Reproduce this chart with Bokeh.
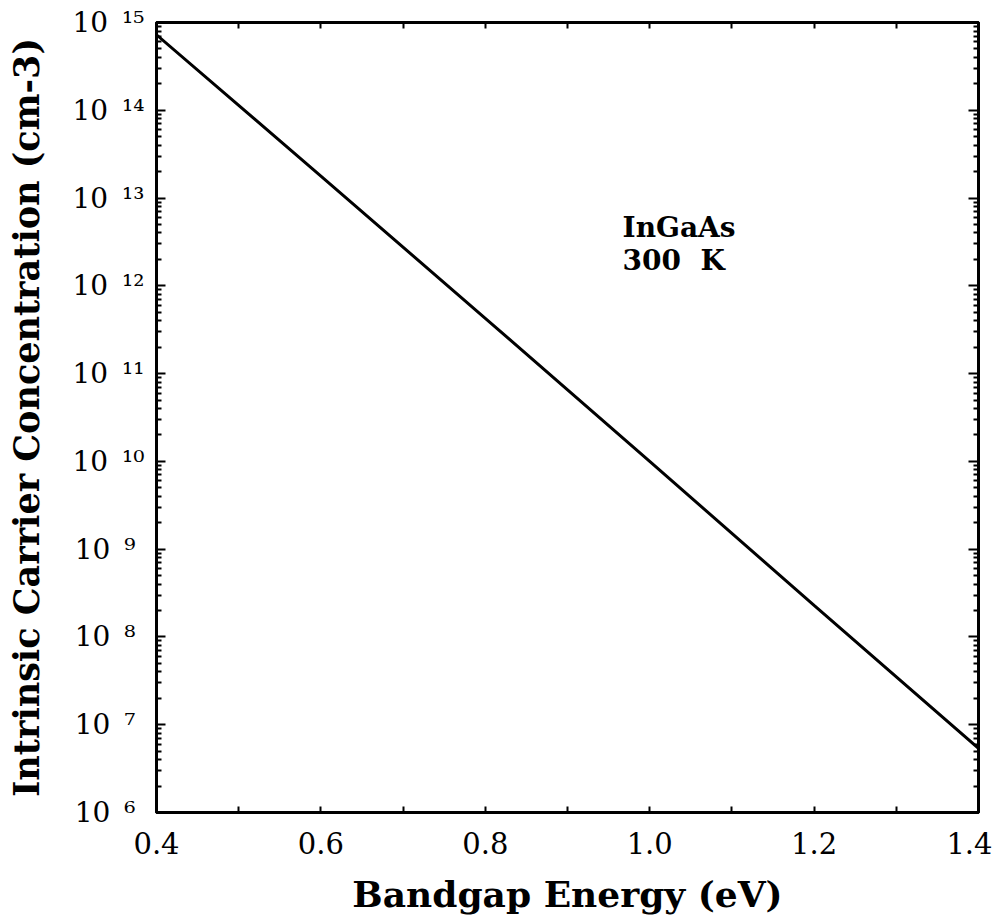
from bokeh.plotting import figure
from bokeh.models import (LogAxis, LinearAxis, FixedTicker, Range1d,
                          Label, CustomJSTickFormatter)
from bokeh.embed import file_html
from bokeh.resources import INLINE

# ---- data ----
energy = [0.4, 0.6, 0.8, 1.0, 1.2, 1.4]                 # eV
log_ni = [14.86, 13.25, 11.63, 10.0, 8.36, 6.73]        # log10(cm^-3)
ni = [10 ** v for v in log_ni]

x_ticks = [0.4, 0.6, 0.8, 1.0, 1.2, 1.4]
x_minor = [0.5, 0.7, 0.9, 1.1, 1.3]
y_exponents = [6, 7, 8, 9, 10, 11, 12, 13, 14, 15]

FONT = "DejaVu Serif"

y_major = [10 ** e for e in y_exponents]
y_minor = [m * 10 ** e for e in y_exponents[:-1] for m in range(2, 10)]

p = figure(frame_width=822, frame_height=790,
           x_range=Range1d(0.4, 1.4), y_range=Range1d(1e6, 1e15),
           y_axis_type="log", output_backend="svg", toolbar_location=None,
           min_border_left=156, min_border_right=14, min_border_top=22,
           min_border_bottom=90)
p.background_fill_color = "white"
p.border_fill_color = "white"
p.xgrid.visible = False
p.ygrid.visible = False
p.outline_line_color = "black"
p.outline_line_width = 3

# bottom x axis
xa = p.xaxis[0]
xa.ticker = FixedTicker(ticks=x_ticks, minor_ticks=x_minor)
xa.formatter = CustomJSTickFormatter(code="return tick.toFixed(1);")
xa.major_tick_in = 6
xa.major_tick_out = 0
xa.minor_tick_in = 6
xa.minor_tick_out = 0
xa.axis_line_width = 3
xa.major_tick_line_width = 2
xa.minor_tick_line_width = 2
xa.major_label_text_font = FONT
xa.major_label_text_font_size = "29px"
xa.major_label_text_color = "black"
xa.major_label_standoff = 19
xa.axis_label = "Bandgap Energy (eV)"
xa.axis_label_text_font = FONT
xa.axis_label_text_font_style = "bold"
xa.axis_label_text_font_size = "36px"
xa.axis_label_text_color = "black"
xa.axis_label_standoff = 16

# left y axis: labels 10 with superscript exponent
ya = p.yaxis[0]
ya.ticker = FixedTicker(ticks=y_major, minor_ticks=y_minor)
ya.formatter = CustomJSTickFormatter(code="""
const sup = {'0':'\u2070','1':'\u00b9','2':'\u00b2','3':'\u00b3','4':'\u2074',
             '5':'\u2075','6':'\u2076','7':'\u2077','8':'\u2078','9':'\u2079'};
const e = Math.round(Math.log10(tick)).toString();
const pad = e.length < 2 ? '\u2008' : '';
return '10\u2002' + e.split('').map(c => sup[c]).join('') + pad;
""")
ya.major_tick_in = 9
ya.major_tick_out = 0
ya.minor_tick_in = 5
ya.minor_tick_out = 0
ya.axis_line_width = 3
ya.major_tick_line_width = 2
ya.minor_tick_line_width = 2
ya.major_label_text_font = FONT
ya.major_label_text_font_size = "28px"
ya.major_label_text_color = "black"
ya.major_label_standoff = 12
ya.axis_label = "Intrinsic Carrier Concentration (cm-3)"
ya.axis_label_text_font = FONT
ya.axis_label_text_font_style = "bold"
ya.axis_label_text_font_size = "35px"
ya.axis_label_text_color = "black"
ya.axis_label_standoff = 22

# mirrored axes
top = LinearAxis(ticker=FixedTicker(ticks=x_ticks, minor_ticks=x_minor),
                 formatter=CustomJSTickFormatter(code="return '';"),
                 major_tick_in=6, major_tick_out=0, minor_tick_in=6, minor_tick_out=0,
                 axis_line_width=3, major_tick_line_width=2, minor_tick_line_width=2,
                 major_label_standoff=0)
p.add_layout(top, "above")
right = LogAxis(ticker=FixedTicker(ticks=y_major, minor_ticks=y_minor),
                formatter=CustomJSTickFormatter(code="return '';"),
                major_tick_in=10, major_tick_out=0, minor_tick_in=5, minor_tick_out=0,
                axis_line_width=3, major_tick_line_width=2, minor_tick_line_width=2,
                major_label_standoff=0)
p.add_layout(right, "right")

# curve
p.line(energy, ni, line_color="black", line_width=3)

# annotation
p.add_layout(Label(x=0.967, y=10 ** 12.66, text="InGaAs", text_font=FONT,
                   text_font_style="bold", text_font_size="28px",
                   text_baseline="alphabetic", text_color="black"))
p.add_layout(Label(x=0.967, y=10 ** 12.29, text="300\u00a0\u00a0K", text_font=FONT,
                   text_font_style="bold", text_font_size="28px",
                   text_baseline="alphabetic", text_color="black"))

open("out.html", "w").write(file_html(p, INLINE))
